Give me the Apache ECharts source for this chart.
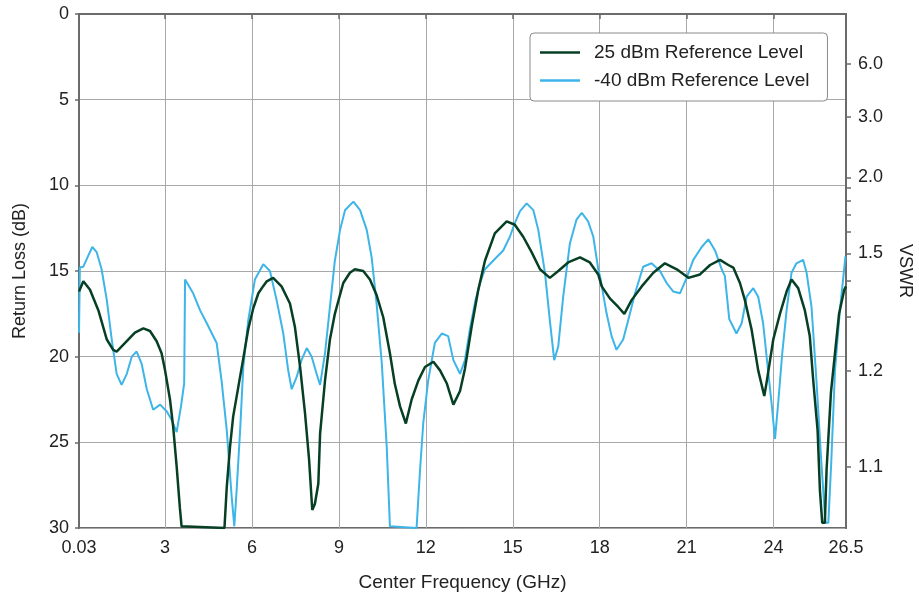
<!DOCTYPE html>
<html>
<head>
<meta charset="utf-8">
<script src="https://cdn.jsdelivr.net/npm/echarts@6/dist/echarts.min.js"></script>
<style>
html,body{margin:0;padding:0;background:#fff;}
#chart{width:919px;height:594px;}
</style>
</head>
<body>
<div id="chart"></div>
<script>
// X tick labels (GHz)
const xTicks = [0.03, 3, 6, 9, 12, 15, 18, 21, 24, 26.5];
// Right axis VSWR labels and minor ticks
const vswrLabels = [6.0, 3.0, 2.0, 1.5, 1.2, 1.1];
const vswrMinor = [1.9, 1.8, 1.7, 1.6, 1.4, 1.3];
const seriesNames = ['25 dBm Reference Level', '-40 dBm Reference Level'];

// [frequency GHz, return loss dB]
const ref25 = [
[0.03,16.2],[0.18,15.6],[0.41,16.1],[0.70,17.3],[0.99,19.0],[1.21,19.6],[1.33,19.7],[1.62,19.2],[1.96,18.6],[2.25,18.35],[2.48,18.5],[2.71,19.1],[2.88,19.8],[3.00,20.8],[3.17,22.5],[3.28,24.1],[3.40,26.4],[3.51,28.8],[3.57,29.9],[3.60,30],
[5.05,30],[5.13,27.6],[5.24,25.3],[5.35,23.5],[5.53,21.75],[5.70,20.1],[5.87,18.4],[6.04,17.2],[6.22,16.3],[6.38,15.9],[6.51,15.6],[6.73,15.4],[7.02,15.9],[7.31,16.9],[7.48,18.25],[7.66,20.6],[7.83,23.3],[7.97,26.0],[8.08,28.95],[8.17,28.6],[8.29,27.4],[8.35,24.5],[8.52,21.4],[8.69,19.0],[8.86,17.5],[8.98,16.75],[9.15,15.7],[9.38,15.1],[9.55,14.9],[9.84,15.0],[10.07,15.5],[10.30,16.4],[10.53,17.7],[10.76,19.8],[10.93,21.6],[11.11,22.9],[11.31,23.9],[11.51,22.5],[11.74,21.4],[11.97,20.6],[12.26,20.3],[12.49,20.8],[12.72,21.55],[12.95,22.8],[13.18,22.0],[13.35,20.7],[13.58,18.25],[13.81,16.1],[14.04,14.4],[14.38,12.8],[14.79,12.1],[15.07,12.3],[15.36,13.0],[15.65,13.9],[15.94,14.9],[16.28,15.4],[16.57,15.0],[16.91,14.5],[17.32,14.2],[17.66,14.5],[17.95,15.2],[18.07,15.9],[18.35,16.6],[18.64,17.1],[18.85,17.5],[19.10,16.7],[19.45,15.9],[19.85,15.1],[20.25,14.55],[20.66,14.9],[21.06,15.4],[21.46,15.2],[21.81,14.65],[22.15,14.35],[22.44,14.65],[22.61,14.8],[22.84,15.7],[23.01,16.7],[23.24,18.4],[23.47,20.8],[23.68,22.3],[23.76,21.5],[23.99,19.0],[24.22,17.5],[24.45,16.2],[24.62,15.5],[24.85,16.0],[25.08,17.3],[25.25,18.8],[25.37,21.4],[25.52,24.3],[25.60,27.8],[25.68,29.7],[25.77,29.7],[25.83,26.6],[25.98,22.1],[26.12,19.8],[26.26,17.5],[26.44,16.1],[26.5,15.9]
];
const refm40 = [
[0.03,18.6],[0.06,14.8],[0.18,14.75],[0.35,14.1],[0.49,13.6],[0.64,13.9],[0.81,14.9],[0.99,16.7],[1.16,19.0],[1.33,21.0],[1.50,21.65],[1.68,21.0],[1.85,20.0],[2.02,19.7],[2.19,20.4],[2.37,21.9],[2.59,23.1],[2.83,22.8],[3.06,23.2],[3.23,23.7],[3.40,24.4],[3.55,22.9],[3.66,21.55],[3.69,15.5],[3.75,15.6],[3.97,16.3],[4.21,17.3],[4.44,18.05],[4.78,19.2],[4.95,21.4],[5.13,24.3],[5.30,28.2],[5.39,29.9],[5.47,27.8],[5.59,24.3],[5.70,20.6],[5.87,17.9],[6.10,15.5],[6.39,14.6],[6.62,15.0],[6.85,16.7],[7.08,18.65],[7.25,20.8],[7.37,21.9],[7.54,21.2],[7.71,20.2],[7.89,19.5],[8.06,20.0],[8.23,21.0],[8.35,21.65],[8.52,19.8],[8.69,17.1],[8.86,14.4],[9.04,12.6],[9.21,11.45],[9.50,10.95],[9.73,11.45],[9.96,12.6],[10.13,14.2],[10.30,16.9],[10.48,20.4],[10.65,25.25],[10.76,29.9],[10.78,30],
[11.68,30],[11.80,26.6],[11.91,23.9],[12.08,21.4],[12.31,19.2],[12.55,18.65],[12.77,18.8],[12.95,20.2],[13.18,21.0],[13.35,20.2],[13.52,18.4],[13.70,16.8],[13.87,15.7],[14.04,14.9],[14.38,14.3],[14.67,13.8],[14.90,13.0],[15.07,12.2],[15.25,11.5],[15.48,11.05],[15.71,11.45],[15.88,12.6],[16.11,15.1],[16.28,17.9],[16.43,20.2],[16.57,19.4],[16.74,16.5],[16.97,13.4],[17.20,12.0],[17.38,11.6],[17.60,12.1],[17.78,13.0],[17.95,14.9],[18.01,15.3],[18.24,17.5],[18.41,18.8],[18.58,19.6],[18.81,19.0],[18.98,17.9],[19.22,16.3],[19.50,14.75],[19.79,14.55],[20.08,15.0],[20.31,15.7],[20.54,16.2],[20.77,16.3],[21.00,15.4],[21.23,14.35],[21.52,13.6],[21.75,13.15],[21.98,13.8],[22.21,14.9],[22.32,15.3],[22.47,17.8],[22.72,18.65],[22.90,18.05],[23.07,16.5],[23.30,16.0],[23.47,16.5],[23.64,18.05],[23.81,20.8],[23.93,22.7],[24.05,24.8],[24.16,22.7],[24.30,19.8],[24.45,17.3],[24.62,15.1],[24.79,14.55],[25.02,14.35],[25.14,15.1],[25.31,17.1],[25.48,21.4],[25.65,26.2],[25.79,29.7],[25.89,29.7],[25.99,26.2],[26.12,20.8],[26.29,17.3],[26.48,14.15]
];

function vswrToRL(v){ return 20*Math.log10((v+1)/(v-1)); }
function rlToVswr(rl){ const g = Math.pow(10,-rl/20); return (1+g)/(1-g); }

const axisCol = '#6b6b6b';
const txtCol = '#222';
const font = 'Liberation Sans, Arial, sans-serif';
const darkCol = '#073f24';
const lightCol = '#3db5e8';

const chart = echarts.init(document.getElementById('chart'), null, {renderer:'canvas'});
chart.setOption({
  animation:false,
  backgroundColor:'#fff',
  grid:{left:79, right:73, top:14, bottom:66, show:true, borderColor:axisCol, borderWidth:2,
    backgroundColor:'transparent', containLabel:false, outerBoundsMode:'none'},
  legend:{
    orient:'vertical', left:530, top:33,
    data:[{name:seriesNames[0], itemStyle:{color:darkCol}}, {name:seriesNames[1], itemStyle:{color:lightCol}}],
    icon:'rect',
    backgroundColor:'#fff', borderColor:'#8a8a8a', borderWidth:1, borderRadius:4,
    padding:[10,18,11,10], itemGap:9, itemWidth:40, itemHeight:2.5,
    textStyle:{fontFamily:font, fontSize:19, color:txtCol, padding:[0,0,0,9]}
  },
  xAxis:{
    type:'value', min:0.03, max:26.5,
    name:'Center Frequency (GHz)', nameLocation:'middle', nameGap:45,
    nameTextStyle:{fontFamily:font, fontSize:19, color:txtCol},
    axisLine:{show:true, lineStyle:{color:axisCol, width:2}},
    axisTick:{show:true, length:5, lineStyle:{color:axisCol, width:1.5}, customValues:xTicks},
    axisLabel:{fontFamily:font, fontSize:18, color:txtCol, margin:11, customValues:xTicks,
      formatter:v=>String(v)},
    splitLine:{show:true, lineStyle:{color:'#a8a8a8', width:1}}
  },
  yAxis:[{
    type:'value', min:0, max:30, interval:5, inverse:true,
    name:'Return Loss (dB)', nameLocation:'middle', nameGap:50,
    nameTextStyle:{fontFamily:font, fontSize:18, color:txtCol},
    axisLine:{show:true, lineStyle:{color:axisCol, width:2}},
    axisTick:{show:true, length:4, lineStyle:{color:axisCol, width:1.5}},
    axisLabel:{fontFamily:font, fontSize:18, color:txtCol, margin:10},
    splitLine:{show:true, lineStyle:{color:'#a8a8a8', width:1}}
  },{
    type:'value', min:0, max:30, inverse:true, position:'right',
    name:'VSWR', nameLocation:'middle', nameGap:50, nameRotate:-90,
    nameTextStyle:{fontFamily:font, fontSize:18, color:txtCol},
    axisLine:{show:true, lineStyle:{color:axisCol, width:2}},
    axisTick:{show:true, length:5, lineStyle:{color:axisCol, width:1.5},
      customValues: vswrLabels.concat(vswrMinor).map(vswrToRL)},
    axisLabel:{fontFamily:font, fontSize:18, color:txtCol, margin:12,
      customValues: vswrLabels.map(vswrToRL),
      formatter:v=>rlToVswr(v).toFixed(1)},
    splitLine:{show:false}
  }],
  series:[{
    name:seriesNames[1], type:'line', data:refm40, showSymbol:false, symbol:'none',
    lineStyle:{color:lightCol, width:2}, itemStyle:{color:lightCol}, z:2
  },{
    name:seriesNames[0], type:'line', data:ref25, showSymbol:false, symbol:'none',
    lineStyle:{color:darkCol, width:2.5}, itemStyle:{color:darkCol}, z:3
  }]
});
</script>
</body>
</html>
